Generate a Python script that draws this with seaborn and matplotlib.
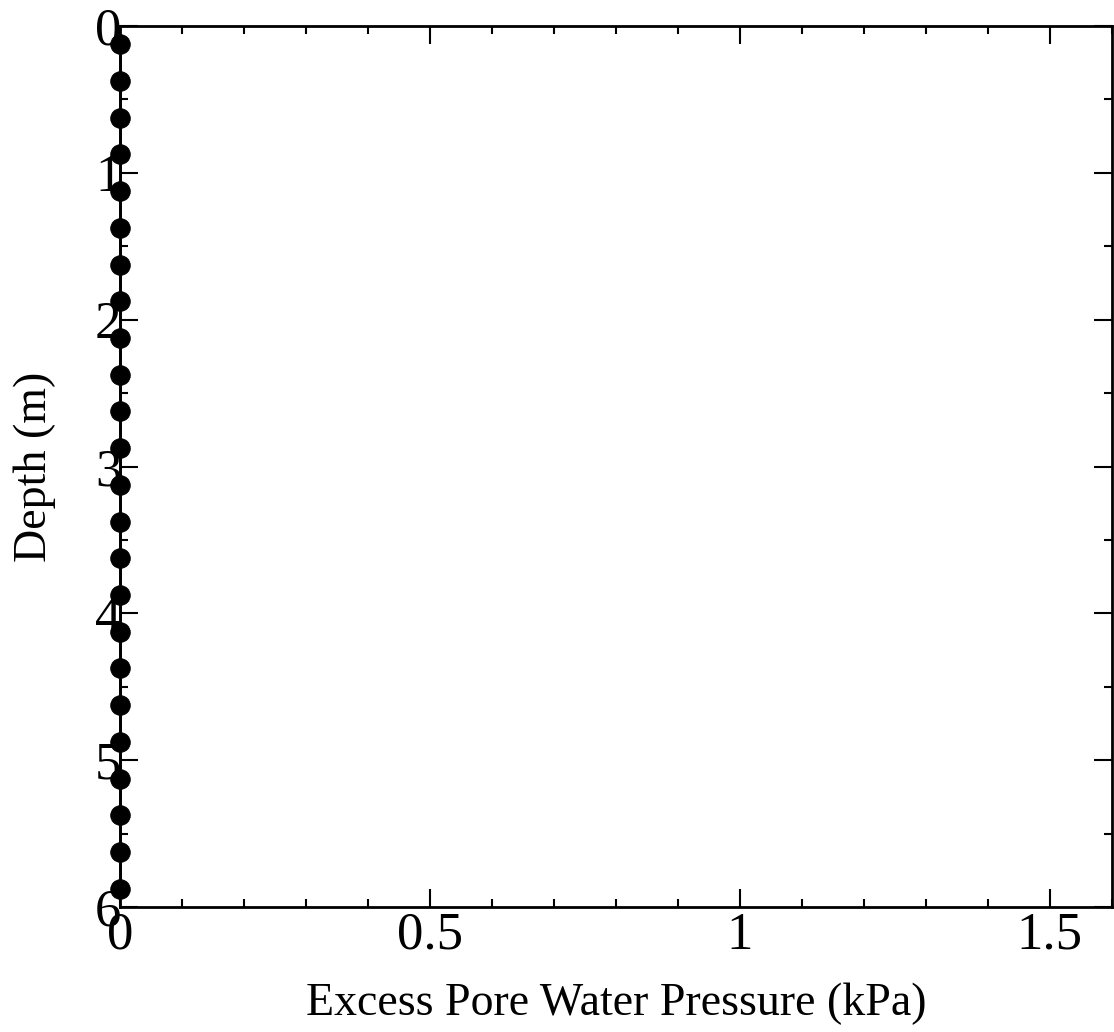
import numpy as np
import pandas as pd
import matplotlib
matplotlib.use("Agg")
import matplotlib.pyplot as plt
import seaborn as sns
from matplotlib.ticker import MultipleLocator

# Depth of each node (m) and excess pore water pressure (kPa)
depth = [0.125, 0.375, 0.625, 0.875, 1.125, 1.375, 1.625, 1.875,
         2.125, 2.375, 2.625, 2.875, 3.125, 3.375, 3.625, 3.875,
         4.125, 4.375, 4.625, 4.875, 5.125, 5.375, 5.625, 5.875]
pressure = [0.0] * len(depth)

df = pd.DataFrame({"Depth (m)": depth, "Excess Pore Water Pressure (kPa)": pressure})

sns.set_style("white")
plt.rcParams["font.family"] = ["Liberation Serif", "DejaVu Serif"]
plt.rcParams["text.color"] = "black"
plt.rcParams["axes.labelcolor"] = "black"
plt.rcParams["xtick.color"] = "black"
plt.rcParams["ytick.color"] = "black"

fig = plt.figure(figsize=(11.14, 10.32), dpi=100)
ax = fig.add_axes([0.1077, 0.1211, 0.8903, 0.8537])

sns.lineplot(data=df, x="Excess Pore Water Pressure (kPa)", y="Depth (m)",
             sort=False, estimator=None, color="black", linewidth=2,
             marker="o", markersize=14, markeredgecolor="black", ax=ax)
for ln in ax.lines:
    ln.set_clip_on(False)
    ln.set_zorder(5)

ax.set_xlim(0, 1.6)
ax.set_ylim(6, 0)
ax.xaxis.set_minor_locator(MultipleLocator(0.1))
ax.yaxis.set_minor_locator(MultipleLocator(0.5))
ax.set_xticks([0, 0.5, 1, 1.5])
ax.set_xticklabels(["0", "0.5", "1", "1.5"])
ax.set_yticks([0, 1, 2, 3, 4, 5, 6])
ax.set_yticklabels(["0", "1", "2", "3", "4", "5", "6"])

ax.tick_params(which="both", direction="in", top=True, right=True,
               bottom=True, left=True, color="black", width=1.5)
ax.tick_params(which="major", length=13)
ax.tick_params(which="minor", length=6)
ax.tick_params(axis="x", which="major", labelsize=38, pad=3.5)
ax.tick_params(axis="y", which="major", labelsize=38, pad=-1)

for s in ax.spines.values():
    s.set_color("black")
    s.set_linewidth(2)

ax.set_xlabel("Excess Pore Water Pressure (kPa)", fontsize=33, labelpad=16)
ax.set_ylabel("Depth (m)", fontsize=33, labelpad=28)

fig.savefig("out.png", dpi=100)
